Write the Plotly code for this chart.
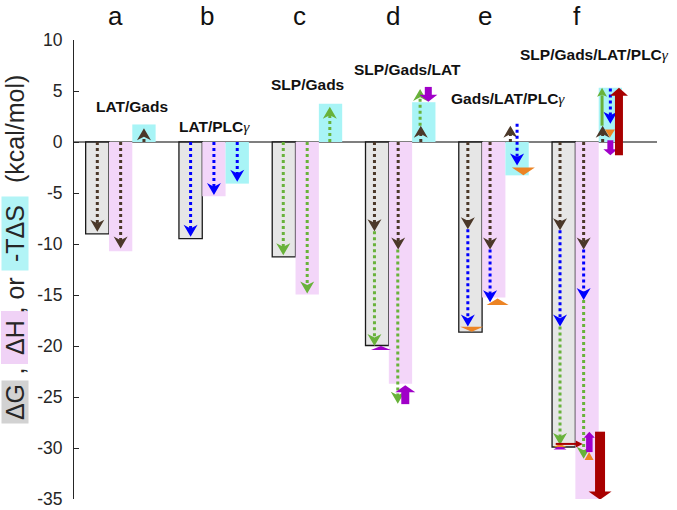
import plotly.graph_objects as go

# ---------------- data ----------------
groups = ["a", "b", "c", "d", "e", "f"]
complex_labels = ["LAT/Gads", "LAT/PLC", "SLP/Gads", "SLP/Gads/LAT",
                  "Gads/LAT/PLC", "SLP/Gads/LAT/PLC"]
has_gamma = [False, True, False, False, True, True]
dG = [-9.0, -9.47, -11.27, -19.95, -18.63, -29.9]
dH = [-10.7, -5.32, -14.96, -23.7, -15.25, -35.05]
mTdS = [1.72, -4.08, 3.76, 3.9, -3.27, 5.33]
y_ticks = [-35, -30, -25, -20, -15, -10, -5, 0, 5, 10]
y_tick_text = ["-35", "-30", "-25", "-20", "-15", "-10", "-5", "0", "5", "10"]

# arrows: (group 1..6, bar 0=dG 1=dH 2=-TdS, start, end)
lat_gads = [(1, 0, 0, -8.8), (1, 1, 0, -10.45), (1, 2, 0, 1.35),
            (4, 0, 0, -8.75), (4, 1, 0, -10.55), (4, 2, 0, 1.6),
            (5, 0, 0, -8.55), (5, 1, 0, -10.55), (5, 2, 0, 1.6),
            (6, 0, 0, -8.65), (6, 1, 0, -10.55), (6, 2, 0, 1.6)]
lat_plc = [(2, 0, 0, -9.3), (2, 1, 0, -5.2), (2, 2, 0, -3.9),
           (5, 0, -8.55, -18.1), (5, 1, -10.55, -15.7), (5, 2, 1.8, -2.3),
           (6, 0, -8.65, -18.1), (6, 1, -10.55, -15.5), (6, 2, 5.25, 1.8)]
slp_gads = [(3, 0, 0, -11.1), (3, 1, 0, -14.85), (3, 2, 0, 3.45),
            (4, 0, -8.75, -20.0), (4, 1, -10.55, -25.65), (4, 2, 1.6, 5.2),
            (6, 0, -18.1, -29.7), (6, 1, -15.5, -31.05)]
slp_gads_solid = [(6, 2, 1.6, 5.33)]
purple_arrows = [(4, 1, -25.7, -23.85), (4, 2, 5.4, 3.95),
                 (6, 1, -30.4, -28.4), (6, 2, 0.17, -1.3)]
purple_heads = [(4, 0, -20.4, -20.0), (6, 0, -30.15, -29.75)]
orange_heads = [(5, 0, -18.1, -18.6), (5, 1, -16.0, -15.35), (5, 2, -2.5, -3.27),
                (6, 0, -29.9, -29.6), (6, 1, -31.2, -30.4), (6, 2, 1.25, 0.45)]
red_arrows = [(6, 1, -28.4, -35.06), (6, 2, -1.3, 5.33)]
red_side = [(6, 0, -29.6)]

# ---------------- layout geometry / styles ----------------
W, H = 677, 510
L, R, T, B = 74, 20, 40, 11
PW, PH = W - L - R, H - T - B
XR = [0.5, 6.75]
YR = [-35, 10]
PXX = PW / (XR[1] - XR[0])
PXY = PH / (YR[1] - YR[0])
SLOT = [-0.25, 0.0, 0.25]

# x nudges in pixels (same order as the lists above)
nudge_lat_gads = [0, 0, 0, -2.7, -2.3, -3, -2.6, -3.7, -6.7, -3.7, -3.4, -7.7]
nudge_lat_plc = [0, 0, 0, -2.6, -3.7, 0, -3.7, -3.4, 0]
nudge_slp = [-0.6, 0, -0.7, -2.7, -2.7, -3.7, -3.7, -3.4]
nudge_slp_solid = [-8.3]
nudge_purple = [4.8, 4.5, 2.3, 0]
nudge_purple_heads = [3.8, -3.7]
nudge_orange = [1.3, 3.8, 6.3, -3.7, 2.0, -0.4]
size_orange = [(23, 5), (22, 6.5), (23, 7.8), (13, 3), (9, 8), (10, 8)]
size_purple = [(20, 7, 8), (18, 7, 7), (11, 6, 6.5), (14, 6, 6)]
nudge_red = [13, 8.6]
size_red = [(23, 8, 10), (18, 8, 8)]

BROWN = "#4b3829"
BLUE = "#0000ff"
GREEN = "#68b23a"
PURPLE = "#a000c8"
ORANGE = "#ec8424"
RED = "#a80000"
GRAY_FILL = "#e6e6e6"
PINK_FILL = "#f3d6f9"
CYAN_FILL = "#a8f4f6"
TXT = "#262626"


def xpos(g, b, nudge=0.0):
    return g + SLOT[b] + nudge / PXX


fig = go.Figure()

# ---------------- bars ----------------
gx = list(range(1, 7))
fig.add_trace(go.Bar(x=[g + SLOT[0] for g in gx], y=dG, width=0.25,
                     marker=dict(color=GRAY_FILL, line=dict(color="#1a1a1a", width=1.3)),
                     hoverinfo="skip"))
fig.add_trace(go.Bar(x=[g + SLOT[1] for g in gx], y=dH, width=0.25,
                     marker=dict(color=PINK_FILL, line=dict(width=0)), hoverinfo="skip"))
fig.add_trace(go.Bar(x=[g + SLOT[2] for g in gx], y=mTdS, width=0.25,
                     marker=dict(color=CYAN_FILL, line=dict(width=0)), hoverinfo="skip"))


def head(x, tip, direction, w_px, h_px, color, notch=0.0):
    s = 1 if direction > 0 else -1
    w = w_px / PXX / 2
    h = h_px / PXY
    base = tip - s * h
    xs = [x, x - w, x, x + w, x]
    ys = [tip, base, base + s * h * notch, base, tip]
    fig.add_trace(go.Scatter(x=xs, y=ys, mode="lines", fill="toself",
                             fillcolor=color, line=dict(width=0, color=color),
                             hoverinfo="skip"))


def arrow(x, y0, y1, color, dotted=True, lw=3, hw=14, hh=12, notch=0.3):
    s = 1 if y1 > y0 else -1
    h = hh / PXY
    yend = y1 - s * h * (0.5 if dotted else 0.85)
    fig.add_trace(go.Scatter(x=[x, x], y=[y0, yend], mode="lines",
                             line=dict(color=color, width=lw,
                                       dash="dot" if dotted else "solid"),
                             hoverinfo="skip"))
    head(x, y1, s, hw, hh, color, notch)


for (g, b, y0, y1), n in zip(lat_gads, nudge_lat_gads):
    arrow(xpos(g, b, n), y0, y1, BROWN)
for (g, b, y0, y1), n in zip(lat_plc, nudge_lat_plc):
    arrow(xpos(g, b, n), y0, y1, BLUE)
for (g, b, y0, y1), n in zip(slp_gads, nudge_slp):
    arrow(xpos(g, b, n), y0, y1, GREEN)
for (g, b, y0, y1), n in zip(slp_gads_solid, nudge_slp_solid):
    arrow(xpos(g, b, n), y0, y1, GREEN, dotted=False, lw=3, hw=10, hh=9, notch=0.2)
for (g, b, y0, y1), n, (hw, hh, lw) in zip(purple_arrows, nudge_purple, size_purple):
    arrow(xpos(g, b, n), y0, y1, PURPLE, dotted=False, lw=lw, hw=hw, hh=hh, notch=0.0)
for (g, b, y0, y1), n in zip(purple_heads, nudge_purple_heads):
    head(xpos(g, b, n), y1, 1 if y1 > y0 else -1, 20 if g == 4 else 13,
         (abs(y1 - y0)) * PXY, PURPLE)
for (g, b, y0, y1), n, (hw, hh) in zip(orange_heads, nudge_orange, size_orange):
    head(xpos(g, b, n), y1, 1 if y1 > y0 else -1, hw, hh, ORANGE)
for (g, b, y0, y1), n, (hw, hh, lw) in zip(red_arrows, nudge_red, size_red):
    arrow(xpos(g, b, n), y0, y1, RED, dotted=False, lw=lw, hw=hw, hh=hh, notch=0.0)
# small sideways red arrow at bottom of f/dG
for (g, b, yv) in red_side:
    xa = xpos(g, b, -8)
    xb = xpos(g, b, 19)
    fig.add_trace(go.Scatter(x=[xa, xb - 6 / PXX], y=[yv, yv], mode="lines",
                             line=dict(color=RED, width=2), hoverinfo="skip"))
    hx = 7 / PXX
    hy = 3.5 / PXY
    fig.add_trace(go.Scatter(x=[xb, xb - hx, xb - hx, xb], y=[yv, yv + hy, yv - hy, yv],
                             mode="lines", fill="toself", fillcolor=RED,
                             line=dict(width=0, color=RED), hoverinfo="skip"))

# zero line
fig.add_shape(type="line", x0=XR[0], x1=XR[1], y0=0, y1=0, xref="x", yref="y",
              line=dict(color="#555555", width=1.5), layer="below")

# ---------------- text ----------------
GAMMA = ('<span style="font-family:Liberation Serif;font-style:italic;'
         'font-weight:normal">γ</span>')
label_pos = [(1.12, 3.45), (2.01, 1.55), (3.0, 5.6), (4.08, 7.1), (5.15, 4.25), (6.08, 8.6)]
for lab, gm, (lx, ly) in zip(complex_labels, has_gamma, label_pos):
    fig.add_annotation(x=lx, y=ly, xref="x", yref="y", showarrow=False,
                       text="<b>" + lab + "</b>" + (GAMMA if gm else ""),
                       font=dict(family="Arial, Liberation Sans", size=15.5, color="#111111"))

letter_x = [0.94, 1.93, 2.92, 3.92, 4.91, 5.89]
for lt, lx in zip(groups, letter_x):
    fig.add_annotation(x=lx, y=1 + (T - 16) / PH, xref="x", yref="paper", showarrow=False,
                       text=lt, yanchor="middle",
                       font=dict(family="Arial, Liberation Sans", size=26, color="#111111"))


def py(p):
    return 1 - (p - T) / PH


title_x = (14.5 - L) / PW
title_parts = [("ΔG", 402.5, "#d2d2d2", 42), (",", 371, None, None),
               ("ΔH", 338, "#f0d2f6", 52), (", or", 296, None, None),
               ("-TΔS", 233.5, "#b2f4f6", 73), ("(kcal/mol)", 129.5, None, None)]
for txt, p, bg, wlen in title_parts:
    kw = dict(x=title_x, y=py(p), xref="paper", yref="paper", showarrow=False,
              text=txt, textangle=-90, xanchor="center", yanchor="middle",
              font=dict(family="Arial, Liberation Sans", size=25, color=TXT))
    if bg:
        kw.update(bgcolor=bg, width=wlen, height=26, borderpad=0)
    fig.add_annotation(**kw)

fig.update_layout(
    width=W, height=H, margin=dict(l=L, r=R, t=T, b=B, autoexpand=False),
    paper_bgcolor="white", plot_bgcolor="white",
    barmode="overlay", showlegend=False,
    xaxis=dict(range=XR, visible=False, fixedrange=True, automargin=False),
    yaxis=dict(range=YR, tickvals=y_ticks, ticktext=y_tick_text, automargin=False,
               ticks="inside", ticklen=5, tickcolor=TXT, showline=True,
               linecolor=TXT, linewidth=1, showgrid=False, zeroline=False,
               ticklabelstandoff=7, fixedrange=True,
               tickfont=dict(family="Arial, Liberation Sans", size=17.5, color=TXT)),
)

fig.write_html("out.html", config={"displayModeBar": False, "staticPlot": True},
               post_script="document.body.style.margin='0';document.body.style.padding='0';")
